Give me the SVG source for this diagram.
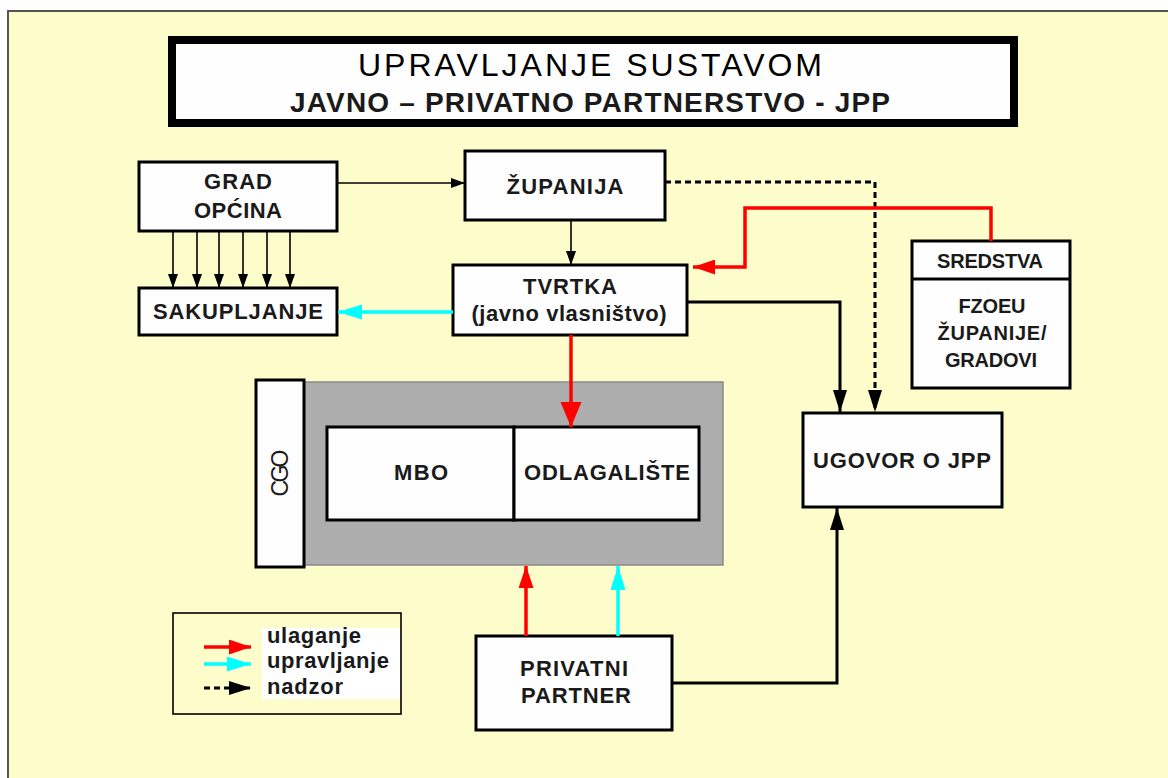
<svg xmlns="http://www.w3.org/2000/svg" width="1168" height="778" viewBox="0 0 1168 778">
<defs>
<style>
.box{fill:#fefefe;stroke:#000;stroke-width:3}
.t{font-family:"Liberation Sans",Arial,sans-serif;font-weight:bold;font-size:22px;fill:#1a1a1a;text-anchor:middle}
.ts{font-family:"Liberation Sans",Arial,sans-serif;font-weight:bold;font-size:20px;fill:#1a1a1a;text-anchor:middle}
.lg{font-family:"Liberation Sans",Arial,sans-serif;font-weight:bold;font-size:22px;fill:#1a1a1a}
.k1{fill:none;stroke:#000;stroke-width:1.6}
.k3{fill:none;stroke:#000;stroke-width:3}
.kd{fill:none;stroke:#000;stroke-width:3;stroke-dasharray:6 4}
.r{fill:none;stroke:#ff0000;stroke-width:3.5}
.c{fill:none;stroke:#00ffff;stroke-width:3.5}
</style>
<marker id="hk" viewBox="0 0 14 10" refX="14" refY="5" markerWidth="14" markerHeight="10" markerUnits="userSpaceOnUse" orient="auto"><path d="M0,0L14,5L0,10z" fill="#000"/></marker>
<marker id="hkb" viewBox="0 0 22 14" refX="22" refY="7" markerWidth="22" markerHeight="14" markerUnits="userSpaceOnUse" orient="auto"><path d="M0,0L22,7L0,14z" fill="#000"/></marker>
<marker id="hr" viewBox="0 0 22 15" refX="22" refY="7.5" markerWidth="22" markerHeight="15" markerUnits="userSpaceOnUse" orient="auto"><path d="M0,0L22,7.5L0,15z" fill="#ff0000"/></marker>
<marker id="hrL" viewBox="0 0 25 21" refX="25" refY="10.5" markerWidth="25" markerHeight="21" markerUnits="userSpaceOnUse" orient="auto"><path d="M0,0L25,10.5L0,21z" fill="#ff0000"/></marker>
<marker id="hc" viewBox="0 0 24 15" refX="24" refY="7.5" markerWidth="24" markerHeight="15" markerUnits="userSpaceOnUse" orient="auto"><path d="M0,0L24,7.5L0,15z" fill="#00ffff"/></marker>
</defs>
<rect x="0" y="0" width="1168" height="778" fill="#ffffff"/>
<rect x="8" y="11" width="1170" height="780" fill="#fdfdcb" stroke="#555" stroke-width="2"/>

<g id="title">
<rect x="172" y="40" width="842" height="83" fill="#fefefe" stroke="#000" stroke-width="8"/>
<text x="590" y="76" font-family="'Liberation Sans',Arial,sans-serif" font-size="32" fill="#000" text-anchor="middle" textLength="464" lengthAdjust="spacing">UPRAVLJANJE SUSTAVOM</text>
<text x="590" y="112" font-family="'Liberation Sans',Arial,sans-serif" font-size="28" font-weight="bold" fill="#1a1a1a" text-anchor="middle" textLength="600" lengthAdjust="spacing">JAVNO – PRIVATNO PARTNERSTVO - JPP</text>
</g>

<g id="grad">
<rect class="box" x="139" y="162" width="198" height="69"/>
<text class="t" x="238" y="189" textLength="68">GRAD</text>
<text class="t" x="238" y="218" textLength="88">OPĆINA</text>
</g>

<g id="sakupljanje">
<rect class="box" x="139" y="288" width="198" height="47"/>
<text class="t" x="238" y="319" textLength="170">SAKUPLJANJE</text>
</g>

<g id="zupanija">
<rect class="box" x="465" y="151" width="200" height="69"/>
<text class="t" x="565" y="194" textLength="117">ŽUPANIJA</text>
</g>

<g id="tvrtka">
<rect class="box" x="453" y="265" width="234" height="70"/>
<text class="t" x="570" y="294" textLength="94">TVRTKA</text>
<text class="t" x="569" y="321" textLength="195">(javno vlasništvo)</text>
</g>

<g id="sredstva">
<rect class="box" x="912" y="241" width="158" height="147"/>
<line x1="912" y1="279" x2="1070" y2="279" stroke="#000" stroke-width="3"/>
<text class="ts" x="990" y="268" textLength="106">SREDSTVA</text>
<text class="ts" x="992" y="313" textLength="67">FZOEU</text>
<text class="ts" x="992" y="340" textLength="109">ŽUPANIJE/</text>
<text class="ts" x="991" y="367" textLength="92">GRADOVI</text>
</g>

<g id="cgo">
<rect x="302" y="382" width="421" height="183" fill="#adadad" stroke="#8a8a8a" stroke-width="1.5"/>
<rect class="box" x="256" y="380" width="48" height="187"/>
<text x="288" y="473" transform="rotate(-90 288 473)" font-family="'Liberation Sans',Arial,sans-serif" font-size="23" fill="#1a1a1a" text-anchor="middle" textLength="47">CGO</text>
</g>

<g id="mbo">
<rect class="box" x="327" y="427" width="187" height="93"/>
<text class="t" x="421" y="480" textLength="54">MBO</text>
</g>

<g id="odlagaliste">
<rect class="box" x="514" y="427" width="185" height="93"/>
<text class="t" x="607" y="480" textLength="166">ODLAGALIŠTE</text>
</g>

<g id="ugovor">
<rect class="box" x="803" y="413" width="199" height="94"/>
<text class="t" x="902" y="468" textLength="178">UGOVOR O JPP</text>
</g>

<g id="privatni">
<rect class="box" x="476" y="636" width="196" height="94"/>
<text class="t" x="574" y="676" textLength="108">PRIVATNI</text>
<text class="t" x="576" y="703" textLength="110">PARTNER</text>
</g>

<g id="legend">
<rect x="173" y="613" width="228" height="101" fill="#fdfdcb" stroke="#000" stroke-width="1.6"/>
<rect x="262" y="628" width="138" height="71" fill="#ffffff"/>
<line class="r" x1="204" y1="647" x2="251" y2="647" marker-end="url(#hr)"/>
<line class="c" x1="204" y1="664" x2="251" y2="664" marker-end="url(#hc)"/>
<line class="kd" x1="204" y1="688" x2="251" y2="688" stroke-dasharray="5 3" marker-end="url(#hkb)"/>
<text class="lg" x="267" y="643" textLength="94">ulaganje</text>
<text class="lg" x="267" y="668" textLength="122">upravljanje</text>
<text class="lg" x="267" y="694" textLength="76">nadzor</text>
</g>

<g id="connectors">
<line class="k1" x1="337" y1="183" x2="465" y2="183" marker-end="url(#hk)"/>
<line class="k1" x1="173" y1="231" x2="173" y2="288" marker-end="url(#hk)"/>
<line class="k1" x1="197" y1="231" x2="197" y2="288" marker-end="url(#hk)"/>
<line class="k1" x1="219" y1="231" x2="219" y2="288" marker-end="url(#hk)"/>
<line class="k1" x1="243" y1="231" x2="243" y2="288" marker-end="url(#hk)"/>
<line class="k1" x1="267" y1="231" x2="267" y2="288" marker-end="url(#hk)"/>
<line class="k1" x1="290" y1="231" x2="290" y2="288" marker-end="url(#hk)"/>
<line class="k1" x1="571" y1="220" x2="571" y2="265" marker-end="url(#hk)"/>
<line class="c" x1="453" y1="312" x2="338" y2="312" marker-end="url(#hc)"/>
<polyline class="kd" points="665,182 875,182 875,412" marker-end="url(#hkb)"/>
<polyline class="r" points="991,241 991,208 745,208 745,267 693,267" marker-end="url(#hr)"/>
<polyline class="k3" points="687,302 840,302 840,412" marker-end="url(#hkb)"/>
<line class="r" x1="571" y1="335" x2="571" y2="427" marker-end="url(#hrL)"/>
<line class="r" x1="526" y1="636" x2="526" y2="566" marker-end="url(#hr)"/>
<line class="c" x1="618" y1="636" x2="618" y2="566" marker-end="url(#hc)"/>
<polyline class="k3" points="672,683 837,683 837,508" marker-end="url(#hkb)"/>
</g>
</svg>
